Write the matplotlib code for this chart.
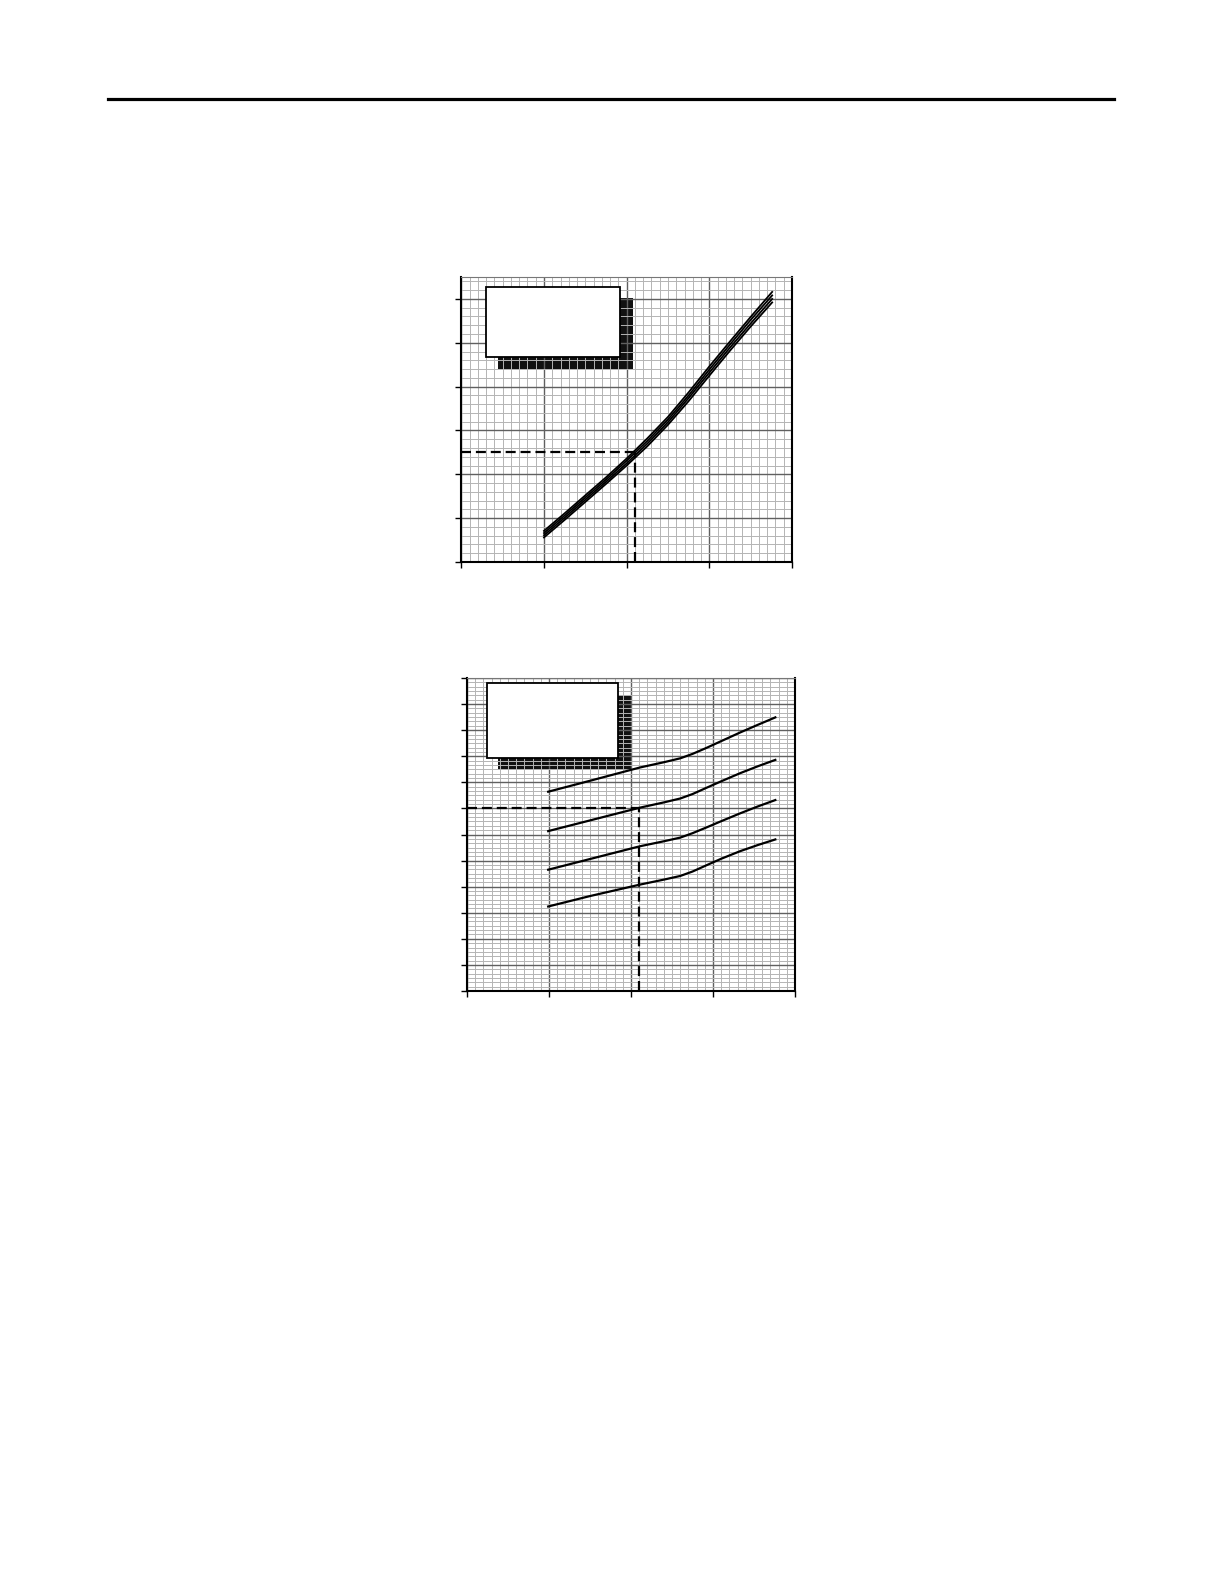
import numpy as np
import matplotlib
matplotlib.use("Agg")
import matplotlib.pyplot as plt
from matplotlib.patches import Rectangle

# upper chart: bundle of four close curves
x_top = [1.00, 1.25, 1.50, 1.75, 2.00, 2.25, 2.50, 2.75, 3.00, 3.25, 3.50, 3.76]
top_curves = [
    [0.71, 1.11, 1.52, 1.93, 2.36, 2.82, 3.31, 3.87, 4.46, 5.03, 5.59, 6.16],
    [0.66, 1.06, 1.47, 1.88, 2.31, 2.76, 3.25, 3.80, 4.39, 4.96, 5.52, 6.08],
    [0.61, 1.01, 1.42, 1.83, 2.25, 2.70, 3.19, 3.74, 4.32, 4.89, 5.44, 6.00],
    [0.56, 0.96, 1.37, 1.78, 2.20, 2.64, 3.13, 3.67, 4.25, 4.82, 5.37, 5.92],
]
top_read = (2.1, 2.5)

# lower chart: four separate curves
x_bot = [0.99, 1.50, 2.11, 2.40, 2.60, 2.75, 2.92, 3.10, 3.33, 3.55, 3.76]
bot_curves = [
    [7.64, 8.06, 8.57, 8.77, 8.92, 9.09, 9.32, 9.58, 9.91, 10.21, 10.49],
    [6.13, 6.54, 7.03, 7.23, 7.38, 7.55, 7.79, 8.04, 8.35, 8.62, 8.86],
    [4.65, 5.06, 5.55, 5.74, 5.88, 6.05, 6.27, 6.51, 6.81, 7.08, 7.32],
    [3.24, 3.64, 4.08, 4.27, 4.41, 4.58, 4.82, 5.07, 5.36, 5.60, 5.81],
]
bot_read = (2.1, 7.0)

W, H = 1224, 1584
fig = plt.figure(figsize=(W / 100, H / 100), dpi=100)

# header rule
fig.add_artist(plt.Line2D([108 / W, 1114 / W], [1 - 99 / H, 1 - 99 / H],
                          color="black", lw=2.3, transform=fig.transFigure))


def setup(ax, ymax, yminor):
    ax.set_xlim(0, 4)
    ax.set_ylim(0, ymax)
    ax.set_xticks(np.arange(0, 5))
    ax.set_yticks(np.arange(0, int(ymax) + 1))
    ax.set_xticks(np.arange(0, 4.0001, 0.1), minor=True)
    ax.set_yticks(np.arange(0, ymax + 1e-6, yminor), minor=True)
    ax.set_xticklabels([])
    ax.set_yticklabels([])
    ax.tick_params(which="major", direction="out", length=4, width=1, color="black")
    ax.tick_params(which="minor", length=0)
    ax.set_axisbelow(True)
    ax.grid(which="minor", color="#b4b4b4", lw=0.7)
    ax.grid(which="major", color="#606060", lw=1.0)
    for s in ["left", "bottom", "right"]:
        ax.spines[s].set_linewidth(1.5)
    ax.spines["top"].set_color("#777777")
    ax.spines["top"].set_linewidth(0.8)


def legend_box(ax, box, shadow):
    ax.add_patch(Rectangle(shadow[:2], shadow[2], shadow[3], transform=ax.transAxes,
                           facecolor="#111111", edgecolor="none", zorder=0.2))
    ax.add_patch(Rectangle(box[:2], box[2], box[3], transform=ax.transAxes,
                           facecolor="white", edgecolor="black", lw=1.3, zorder=3))


def read_lines(ax, pt):
    ax.plot([0, pt[0]], [pt[1], pt[1]], color="black", lw=1.6,
            linestyle=(0, (4.5, 2.2)), zorder=2.2, clip_on=False)
    ax.plot([pt[0], pt[0]], [0, pt[1]], color="black", lw=1.6,
            linestyle=(0, (4.5, 2.2)), zorder=2.2, clip_on=False)


ax1 = fig.add_axes([461.3 / W, 1 - 562 / H, 330.7 / W, 285 / H])
setup(ax1, 6.5, 0.2)
legend_box(ax1, (0.0747, 0.719, 0.405, 0.2456), (0.111, 0.677, 0.408, 0.249))
for ys in top_curves:
    ax1.plot(x_top, ys, color="black", lw=1.3, zorder=2)
read_lines(ax1, top_read)

ax2 = fig.add_axes([467 / W, 1 - 991 / H, 328 / W, 313 / H])
setup(ax2, 12, 1 / 6)
legend_box(ax2, (0.060, 0.745, 0.400, 0.238), (0.0936, 0.706, 0.4085, 0.240))
for ys in bot_curves:
    ax2.plot(x_bot, ys, color="black", lw=1.6, zorder=2)
read_lines(ax2, bot_read)

fig.savefig("out.png", dpi=100)
